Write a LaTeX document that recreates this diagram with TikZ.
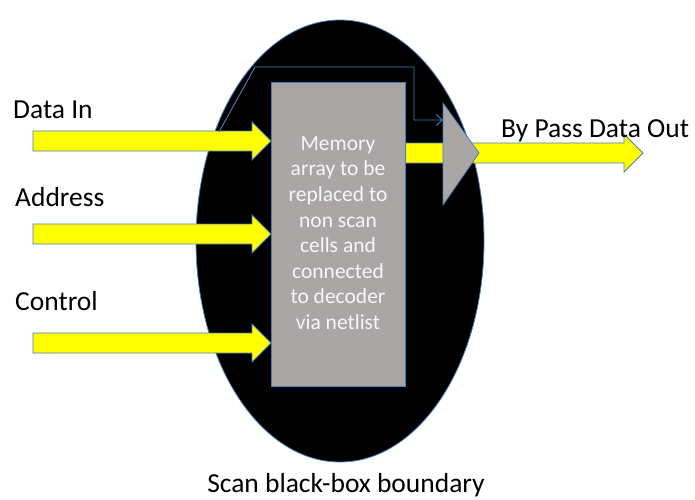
\documentclass[tikz,border=0pt]{standalone}
\usepackage{fontspec}
\setmainfont{Carlito}
\usetikzlibrary{arrows.meta,calc}
\definecolor{edgeblue}{RGB}{74,126,187}
\definecolor{boxgray}{RGB}{170,166,166}
\definecolor{sigyellow}{RGB}{255,255,0}
\tikzset{
  boundary/.style={fill=black,draw=edgeblue,line width=0.8pt},
  membox/.style={fill=boxgray,draw=edgeblue,line width=0.8pt},
  muxshape/.style={fill=boxgray,draw=edgeblue,line width=0.8pt},
  yellowarrow/.style={fill=sigyellow,draw=edgeblue,line width=0.8pt,line join=miter},
  bypass/.style={draw=edgeblue,line width=0.9pt,-{Straight Barb[length=6pt,width=11pt]}},
  label/.style={font=\fontsize{27.5}{32}\selectfont,text=black,inner sep=0pt},
  boxtext/.style={font=\fontsize{21.5}{25.6}\selectfont,text=white!94!gray,align=center,inner sep=0pt}
}
% block arrow from #1 (tail centre) to #2 (tip)
\newcommand\signalarrow[2]{%
  \draw[yellowarrow] let \p1=(#1), \p2=(#2) in
    (\x1,\y1+10pt) -- (\x2-19pt,\y1+10pt) -- (\x2-19pt,\y1+19pt) -- (\x2,\y2)
    -- (\x2-19pt,\y1-19pt) -- (\x2-19pt,\y1-10pt) -- (\x1,\y1-10pt) -- cycle;}
\begin{document}
\begin{tikzpicture}[x=1pt,y=-1pt]
\useasboundingbox (0,0) rectangle (695,499);

% black-box boundary
\draw[boundary] (340,241) ellipse [x radius=144, y radius=221];

% output arrow (runs behind the multiplexer)
\coordinate (outtail) at (405,153);
\coordinate (outtip) at (643,153);
\signalarrow{outtail}{outtip}

% multiplexer
\coordinate (muxtop) at (443,103);
\coordinate (muxbot) at (443,205);
\coordinate (muxtip) at (479,153);
\draw[muxshape] (muxtop) -- (muxtip) -- (muxbot) -- cycle;

% memory array block
\node[membox,minimum width=134pt,minimum height=304pt,inner sep=0pt] (mem) at (338,234) {};
\node[boxtext] (memtext) at (338,233) {Memory\\array to be\\replaced to\\non scan\\cells and\\connected\\to decoder\\via netlist};

% input arrows
\coordinate (dintail) at (33,141);
\coordinate (dintip) at (271,141);
\coordinate (addrtail) at (33,234);
\coordinate (addrtip) at (271,234);
\coordinate (ctrltail) at (33,343);
\coordinate (ctrltip) at (271,343);
\signalarrow{dintail}{dintip}
\signalarrow{addrtail}{addrtip}
\signalarrow{ctrltail}{ctrltip}

% bypass path from data input to multiplexer
\coordinate (bpstart) at (219,132);
\coordinate (bprise) at (255,67);
\coordinate (bpdrop) at (414,120);
\coordinate (muxin) at (443,120);
\draw[bypass] (bpstart) -- (bprise) -| (bpdrop) -- (muxin);

% labels
\node[label,anchor=west] (ldin) at (13,110) {Data In};
\node[label,anchor=west] (laddr) at (15,197) {Address};
\node[label,anchor=west] (lctrl) at (15,301) {Control};
\node[label,anchor=west] (lout) at (501,131) {By Pass Data Out};
\node[label] (lbound) at (346,485) {Scan black-box boundary};
\end{tikzpicture}
\end{document}
